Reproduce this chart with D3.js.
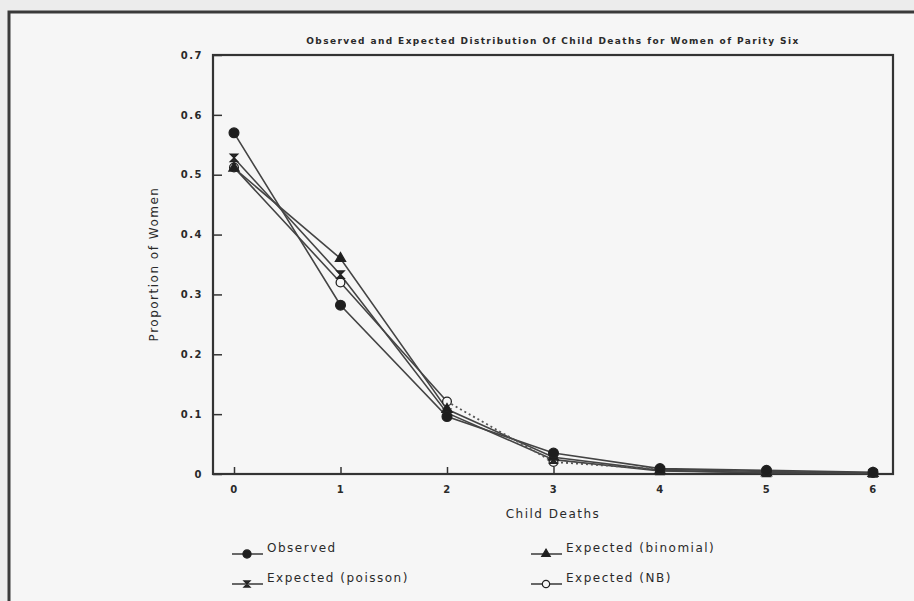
<!DOCTYPE html>
<html>
<head>
<meta charset="utf-8">
<script src="https://cdn.jsdelivr.net/npm/d3@7"></script>
<style>
  body { margin: 0; background: #ececec; }
  svg text { font-family: "DejaVu Sans", sans-serif; fill: #2a2a2a; }
</style>
</head>
<body>
<svg width="914" height="601"></svg>
<script>
var deaths = [0, 1, 2, 3, 4, 5, 6];
var observed = [0.570, 0.282, 0.096, 0.035, 0.009, 0.006, 0.003];
var binomial = [0.511, 0.360, 0.108, 0.028, 0.006, 0.002, 0.001];
var poisson  = [0.528, 0.333, 0.102, 0.024, 0.005, 0.002, 0.001];
var negbin   = [0.512, 0.320, 0.121, 0.020, 0.008, 0.004, 0.002];
var yTicks = [0, 0.1, 0.2, 0.3, 0.4, 0.5, 0.6, 0.7];

var svg = d3.select("svg");

// paper + outer frame
svg.append("rect")
    .attr("x", 9).attr("y", 12)
    .attr("width", 920).attr("height", 620)
    .attr("fill", "#f6f6f6")
    .attr("stroke", "#3a3a3a")
    .attr("stroke-width", 3);

var x = d3.scaleLinear().domain([0, 6]).range([234, 873]);
var y = d3.scaleLinear().domain([0, 0.7]).range([474, 55]);

svg.append("text")
    .attr("x", 553).attr("y", 44)
    .attr("text-anchor", "middle")
    .style("font-size", "9px")
    .style("font-weight", "bold")
    .style("letter-spacing", "1.4px")
    .text("Observed and Expected Distribution Of Child Deaths for Women of Parity Six");

var yAxis = d3.axisLeft(y)
    .tickValues(yTicks)
    .tickSizeInner(-9)
    .tickSizeOuter(0)
    .tickPadding(10)
    .tickFormat(d => d === 0 ? "0" : d3.format(".1f")(d));

var gY = svg.append("g")
    .attr("transform", "translate(213,0)")
    .call(yAxis);

var xAxis = d3.axisBottom(x)
    .tickValues(deaths)
    .tickSizeInner(-7)
    .tickSizeOuter(0)
    .tickPadding(12)
    .tickFormat(d3.format("d"));

var gX = svg.append("g")
    .attr("transform", "translate(0,474)")
    .call(xAxis);

[gX, gY].forEach(g => {
    g.select(".domain").remove();
    g.selectAll("line").attr("stroke", "#333").attr("stroke-width", 1.5);
    g.selectAll("text")
        .style("font-size", "10px")
        .style("font-weight", "bold")
        .style("letter-spacing", "1.5px")
        .attr("fill", "#2a2a2a");
});

// plot frame
svg.append("rect")
    .attr("x", 213).attr("y", 55)
    .attr("width", 680).attr("height", 419)
    .attr("fill", "none")
    .attr("stroke", "#333")
    .attr("stroke-width", 2.2);

svg.append("text")
    .attr("transform", "translate(158,264) rotate(-90)")
    .attr("text-anchor", "middle")
    .style("font-size", "12px")
    .style("letter-spacing", "1.5px")
    .text("Proportion of Women");

svg.append("text")
    .attr("x", 553).attr("y", 518)
    .attr("text-anchor", "middle")
    .style("font-size", "12px")
    .style("letter-spacing", "1.5px")
    .text("Child Deaths");

var bowtie = {
    draw: function(ctx, size) {
        var r = Math.sqrt(size) / 2;
        ctx.moveTo(-r, -r); ctx.lineTo(r, -r); ctx.lineTo(-r, r);
        ctx.lineTo(r, r); ctx.closePath();
    }
};

var series = [
    { name: "Observed", values: observed, sym: d3.symbolCircle, size: 75, fill: "#1e1e1e" },
    { name: "Expected (binomial)", values: binomial, sym: d3.symbolTriangle, size: 45, fill: "#1e1e1e" },
    { name: "Expected (poisson)", values: poisson, sym: bowtie, size: 55, fill: "#2a2a2a" },
    { name: "Expected (NB)", values: negbin, sym: d3.symbolCircle, size: 60, fill: "#f6f6f6" }
];

var line = d3.line()
    .x(d => x(d.x))
    .y(d => y(d.y));

var g = svg.append("g");

series.forEach(s => {
    var pts = s.values.map((v, i) => ({ x: deaths[i], y: v }));
    if (s.name === "Expected (NB)") {
        // the NB curve prints dotted between 2 and 4 deaths
        g.append("path")
            .attr("d", line(pts.slice(0, 3)))
            .attr("fill", "none").attr("stroke", "#444").attr("stroke-width", 1.6);
        g.append("path")
            .attr("d", line(pts.slice(2, 5)))
            .attr("fill", "none").attr("stroke", "#555").attr("stroke-width", 1.8)
            .attr("stroke-dasharray", "2,3");
        g.append("path")
            .attr("d", line(pts.slice(4)))
            .attr("fill", "none").attr("stroke", "#444").attr("stroke-width", 1.6);
    } else {
        g.append("path")
            .attr("d", line(pts))
            .attr("fill", "none")
            .attr("stroke", "#444")
            .attr("stroke-width", 1.6);
    }
});

series.slice().reverse().forEach(s => {
    g.selectAll(null)
        .data(s.values)
        .enter().append("path")
        .attr("transform", (d, i) => "translate(" + x(deaths[i]) + "," + y(d) + ")")
        .attr("d", d3.symbol().type(s.sym).size(s.size))
        .attr("fill", s.fill)
        .attr("stroke", "#222")
        .attr("stroke-width", 1.3);
});

// legend
var legPos = [[247, 554], [546, 554], [247, 584], [546, 584]];
series.forEach((s, i) => {
    var lg = svg.append("g").attr("transform", "translate(" + legPos[i][0] + "," + legPos[i][1] + ")");
    lg.append("line")
        .attr("x1", -15).attr("x2", 16)
        .attr("stroke", "#444").attr("stroke-width", 1.6);
    lg.append("path")
        .attr("d", d3.symbol().type(s.sym).size(s.size * 0.7))
        .attr("fill", s.fill)
        .attr("stroke", "#222")
        .attr("stroke-width", 1.2);
    lg.append("text")
        .attr("x", 20).attr("y", -2)
        .style("font-size", "12px")
        .style("letter-spacing", "1.5px")
        .text(s.name);
});
</script>
</body>
</html>
